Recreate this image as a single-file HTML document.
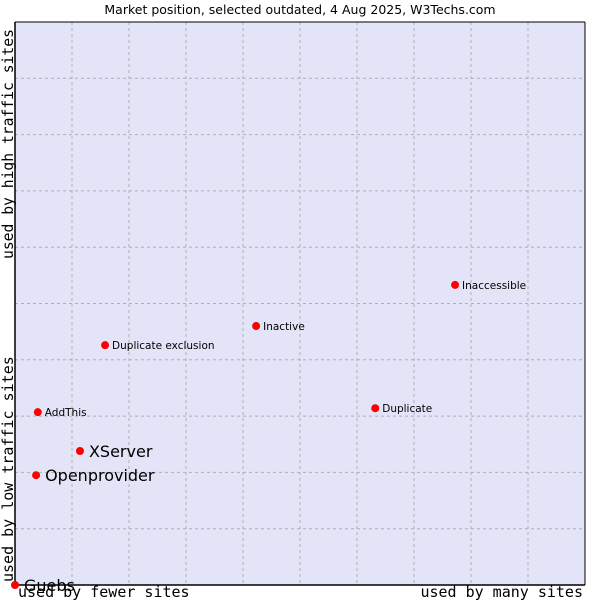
<!DOCTYPE html>
<html><head><meta charset="utf-8"><style>
body{margin:0;background:#fff;}
svg{display:block;font-family:"DejaVu Sans","Liberation Sans",sans-serif;}
</style></head><body>
<svg id="chart" width="600" height="600">
<text x="300" y="14" text-anchor="middle" font-size="12.5" fill="#000">Market position, selected outdated, 4 Aug 2025, W3Techs.com</text>
<rect x="15" y="22" width="570" height="563" fill="#e3e4f8" stroke="none"/>
<g id="grid"></g>
<line x1="15" y1="22" x2="15" y2="585" stroke="#000" stroke-width="1.5"/>
<line x1="15" y1="585" x2="585" y2="585" stroke="#000" stroke-width="1.5"/>
<line x1="15" y1="22" x2="585" y2="22" stroke="#000" stroke-width="1"/>
<line x1="585" y1="22" x2="585" y2="585" stroke="#000" stroke-width="1"/>
<g id="points"></g>
<text x="18" y="597" font-family="'DejaVu Sans Mono','Liberation Mono',monospace" font-size="15">used by fewer sites</text>
<text x="583" y="597" text-anchor="end" font-family="'DejaVu Sans Mono','Liberation Mono',monospace" font-size="15">used by many sites</text>
<text transform="translate(13,582) rotate(-90)" font-family="'DejaVu Sans Mono','Liberation Mono',monospace" font-size="15">used by low traffic sites</text>
<text transform="translate(13,259) rotate(-90)" font-family="'DejaVu Sans Mono','Liberation Mono',monospace" font-size="14.7">used by high traffic sites</text>
</svg>
<script>
const names=["Guebs","Openprovider","XServer","AddThis","Duplicate exclusion","Inactive","Inaccessible","Duplicate"];
const xValues=[0,3.7,11.4,4.0,15.8,42.3,77.2,63.2];
const yValues=[0,19.5,23.8,30.7,42.6,46.0,53.3,31.4];
const bigLabel=[true,true,true,false,false,false,false,false];
const L=15,R=585,T=22,B=585;
const sx=v=>L+v/100*(R-L);
const sy=v=>B-v/100*(B-T);
const NS="http://www.w3.org/2000/svg";
const grid=document.getElementById('grid');
for(let i=1;i<10;i++){
  const x=L+i*(R-L)/10,y=B-i*(B-T)/10;
  const v=document.createElementNS(NS,'line');
  v.setAttribute('x1',x);v.setAttribute('x2',x);v.setAttribute('y1',T);v.setAttribute('y2',B);
  v.setAttribute('stroke','#b0b0b0');v.setAttribute('stroke-dasharray','3,3');
  
  
  grid.appendChild(v);
  const h=document.createElementNS(NS,'line');
  h.setAttribute('x1',L);h.setAttribute('x2',R);h.setAttribute('y1',y);h.setAttribute('y2',y);
  h.setAttribute('stroke','#b0b0b0');h.setAttribute('stroke-dasharray','3,3');
  
  
  grid.appendChild(h);
}
const pts=document.getElementById('points');
names.forEach((n,i)=>{
  const x=sx(xValues[i]),y=sy(yValues[i]);
  const c=document.createElementNS(NS,'circle');
  c.setAttribute('cx',x);c.setAttribute('cy',y);c.setAttribute('r',4);c.setAttribute('fill','#f00');
  
  
  pts.appendChild(c);
  const t=document.createElementNS(NS,'text');
  t.setAttribute('x',x+(bigLabel[i]?9:7));t.setAttribute('y',y+(bigLabel[i]?6:4));
  t.setAttribute('font-size',bigLabel[i]?16:10.5);
  t.textContent=n;
  
  
  pts.appendChild(t);
});
</script>
</body></html>
